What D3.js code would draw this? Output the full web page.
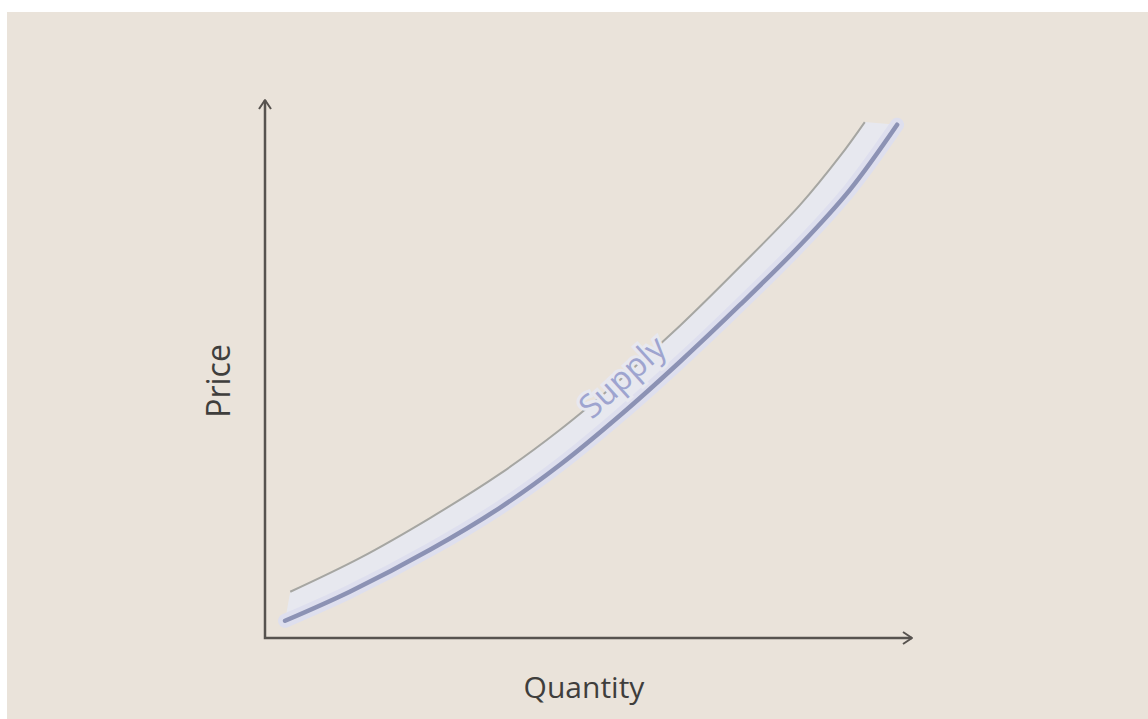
<!DOCTYPE html>
<html>
<head>
<meta charset="utf-8">
<script src="https://cdn.jsdelivr.net/npm/d3@7"></script>
<style>
  html, body { margin: 0; padding: 0; background: #fff; }
  svg { display: block; }
</style>
</head>
<body>
<div id="chart"></div>
<script>
// supply band (quantity / price in arbitrary units 0..10)
const supplyQty   = [0.31, 1.31, 2.55, 3.63, 4.56, 5.49, 6.41, 7.34, 8.27, 9.04, 9.77];
const supplyPrice = [0.32, 0.86, 1.64, 2.42, 3.22, 4.14, 5.13, 6.19, 7.30, 8.33, 9.54];
const upperQty    = [0.39, 1.47, 2.55, 3.63, 4.56, 5.49, 6.41, 7.34, 8.27, 8.89, 9.27];
const upperPrice  = [0.86, 1.49, 2.23, 3.05, 3.87, 4.80, 5.80, 6.90, 8.05, 8.96, 9.59];
const labelQty = 5.53;
const xTitle = "Quantity", yTitle = "Price", curveLabel = "Supply";

const width = 1148, height = 719;

const svg = d3.select("#chart").append("svg")
    .attr("width", width)
    .attr("height", height);

// beige panel with the thin white edge on top and left
svg.append("rect").attr("width", width).attr("height", height).attr("fill", "#fff");
svg.append("rect")
    .attr("x", 7).attr("y", 12)
    .attr("width", width - 7).attr("height", height - 12)
    .attr("fill", "#EAE3DA");

const x = d3.scaleLinear().domain([0, 10]).range([265, 912]);
const y = d3.scaleLinear().domain([0, 10]).range([638, 100]);

const lower = supplyQty.map((q, i) => [x(q), y(supplyPrice[i])]);
const upper = upperQty.map((q, i) => [x(q), y(upperPrice[i])]);

const line = d3.line().curve(d3.curveCatmullRom.alpha(0.5));
const bandFill = "#E7E8EF";

// pale band between the two curves
svg.append("path")
    .attr("d", line(upper) + "L" + line(lower.slice().reverse()).slice(1) + "Z")
    .attr("fill", bandFill);

// soft glow under the main line
svg.append("path")
    .attr("d", line(lower))
    .attr("fill", "none")
    .attr("stroke", "#DEDFEE")
    .attr("stroke-width", 14)
    .attr("stroke-linecap", "round");

svg.append("path")
    .attr("d", line(upper))
    .attr("fill", "none")
    .attr("stroke", "#A6A6A2")
    .attr("stroke-width", 2);

svg.append("path")
    .attr("d", line(lower))
    .attr("fill", "none")
    .attr("stroke", "#8C92B4")
    .attr("stroke-width", 4.5)
    .attr("stroke-linecap", "round");

// axes with open arrow heads
const axisColor = "#57534F";
const g = svg.append("g").attr("stroke", axisColor).attr("stroke-width", 2.5).attr("fill", "none");
g.append("path").attr("d", `M${x(0)},${y(10)}V${y(0)}H${x(10)}`);
g.append("path").attr("d", `M${x(0) - 6},${y(10) + 9}L${x(0)},${y(10)}L${x(0) + 6},${y(10) + 9}`)
    .attr("stroke-width", 2).attr("stroke-linejoin", "round");
g.append("path").attr("d", `M${x(10) - 9},${y(0) - 6}L${x(10)},${y(0)}L${x(10) - 9},${y(0) + 6}`)
    .attr("stroke-width", 2).attr("stroke-linejoin", "round");

svg.append("text")
    .attr("x", 584).attr("y", 698)
    .attr("text-anchor", "middle")
    .attr("font-family", "Open Sans, sans-serif")
    .attr("font-size", 30)
    .attr("fill", "#3F3E3C")
    .text(xTitle);

svg.append("text")
    .attr("transform", "translate(230,381) rotate(-90)")
    .attr("text-anchor", "middle")
    .attr("font-family", "Open Sans, sans-serif")
    .attr("font-size", 32)
    .attr("fill", "#3F3E3C")
    .text(yTitle);

// label sits on the thin upper line, knocking it out
const i0 = d3.bisector(d => d).left(upperQty, labelQty);
const a = upper[i0 - 1], b = upper[i0];
const ang = Math.atan2(b[1] - a[1], b[0] - a[0]) * 180 / Math.PI;
const t = (labelQty - upperQty[i0 - 1]) / (upperQty[i0] - upperQty[i0 - 1]);
const lx = x(labelQty), ly = y(d3.interpolateNumber(upperPrice[i0 - 1], upperPrice[i0])(t));
svg.append("text")
    .attr("transform", `translate(${lx},${ly}) rotate(${ang}) translate(0,11)`)
    .attr("text-anchor", "middle")
    .attr("font-family", "Open Sans, sans-serif")
    .attr("font-size", 33)
    .attr("fill", "#9EA4CF")
    .attr("stroke", bandFill)
    .attr("stroke-width", 6)
    .attr("paint-order", "stroke")
    .text(curveLabel);
</script>
</body>
</html>
